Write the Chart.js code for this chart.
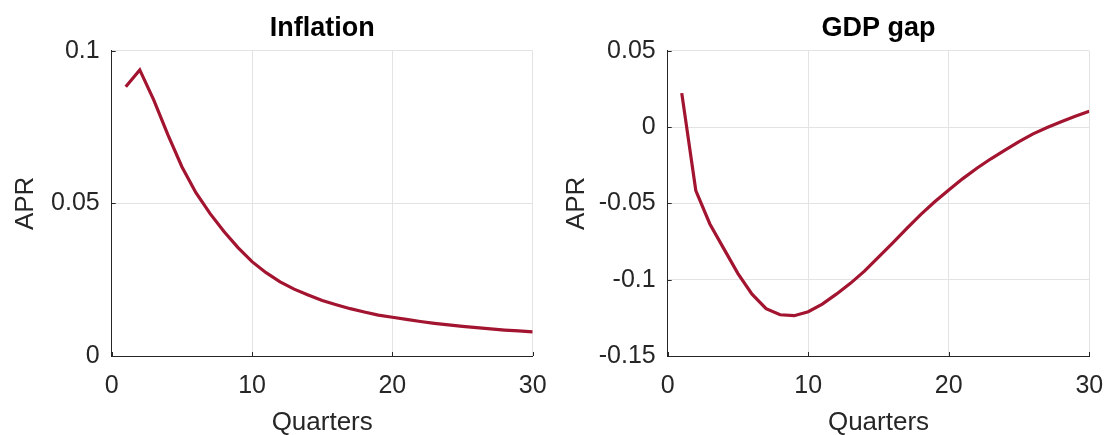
<!DOCTYPE html>
<html>
<head>
<meta charset="utf-8">
<script src="https://cdn.jsdelivr.net/npm/chart.js@4.4.1/dist/chart.umd.min.js"></script>
<style>
  html, body { margin: 0; padding: 0; background: #fff; }
  #wrap { position: relative; width: 1105px; height: 435px; }
  #inflationChart { position: absolute; left: 0; top: 0; }
  #gdpChart { position: absolute; left: 552px; top: 0; }
</style>
</head>
<body>
<div id="wrap">
  <canvas id="inflationChart" width="552" height="435"></canvas>
  <canvas id="gdpChart" width="553" height="435"></canvas>
</div>
<script>
// Data
const quarters = [1, 2, 3, 4, 5, 6, 7, 8, 9, 10, 11, 12, 13, 14, 15, 16, 17, 18, 19, 20, 21, 22, 23, 24, 25, 26, 27, 28, 29, 30];
const inflation = [0.0882, 0.0937, 0.0838, 0.0725, 0.0620, 0.0535, 0.0467, 0.0408, 0.0355, 0.0309,
  0.0273, 0.0243, 0.0219, 0.0200, 0.0182, 0.0168, 0.0155, 0.0144, 0.0134, 0.0127,
  0.0120, 0.0113, 0.0107, 0.0102, 0.0097, 0.0093, 0.0089, 0.0085, 0.0082, 0.0079];
const gdpGap = [0.0222, -0.0416, -0.0635, -0.0798, -0.0960, -0.1095, -0.1190, -0.1230, -0.1236, -0.1210,
  -0.1160, -0.1095, -0.1024, -0.0944, -0.0852, -0.0760, -0.0665, -0.0574, -0.0490, -0.0412,
  -0.0338, -0.0270, -0.0208, -0.0152, -0.0095, -0.0045, -0.0003, 0.0035, 0.0070, 0.0103];

const xTicks = [0, 10, 20, 30];
const inflationTicks = [0, 0.05, 0.1];
const gdpTicks = [-0.15, -0.1, -0.05, 0, 0.05];

const FONT = "'Liberation Sans', Arial, sans-serif";
const AXIS_COLOR = "#262626";
const LINE_COLOR = "#A2142F";

// MATLAB style small ticks pointing into the plot
const innerTicks = {
  id: "innerTicks",
  afterDraw(chart) {
    const ctx = chart.ctx;
    const area = chart.chartArea;
    const x = chart.scales.x;
    const y = chart.scales.y;
    ctx.save();
    ctx.strokeStyle = AXIS_COLOR;
    ctx.lineWidth = 1;
    ctx.beginPath();
    x.ticks.forEach((t) => {
      const px = Math.round(x.getPixelForValue(t.value)) + 0.5;
      ctx.moveTo(px, area.bottom);
      ctx.lineTo(px, area.bottom - 4);
    });
    y.ticks.forEach((t) => {
      const py = Math.round(y.getPixelForValue(t.value)) + 0.5;
      ctx.moveTo(area.left, py);
      ctx.lineTo(area.left + 4, py);
    });
    ctx.stroke();
    ctx.restore();
  },
};

function createChart(canvasId, title, values, yMin, yMax, yTicks, box) {
  const ctx = document.getElementById(canvasId).getContext("2d");
  return new Chart(ctx, {
    type: "line",
    data: {
      datasets: [
        {
          data: quarters.map((q, i) => ({ x: q, y: values[i] })),
          borderColor: LINE_COLOR,
          borderWidth: 3.2,
          pointRadius: 0,
          tension: 0,
          fill: false,
        },
      ],
    },
    options: {
      responsive: false,
      animation: false,
      layout: { padding: { left: 0, right: box.right, top: 0, bottom: 0 } },
      plugins: {
        legend: { display: false },
        tooltip: { enabled: false },
        title: {
          display: true,
          text: title,
          fullSize: false,
          color: "#000",
          font: { family: FONT, size: 27, weight: "bold", lineHeight: 1.2 },
          padding: { top: 12, bottom: 6.3 },
        },
      },
      scales: {
        x: {
          type: "linear",
          min: 0,
          max: 30,
          afterBuildTicks: (scale) => {
            scale.ticks = xTicks.map((v) => ({ value: v }));
          },
          afterFit: (scale) => {
            scale.height = 79;
          },
          ticks: {
            color: AXIS_COLOR,
            // tall line height puts the labels lower without adding side padding
            font: { family: FONT, size: 25, lineHeight: 2.4 },
            padding: 0,
            maxRotation: 0,
            callback: (v) => String(v),
          },
          grid: { color: "#e3e3e3", drawTicks: false, lineWidth: 1 },
          border: { display: true, color: AXIS_COLOR, width: 1 },
          title: {
            display: true,
            text: "Quarters",
            color: AXIS_COLOR,
            font: { family: FONT, size: 26, lineHeight: 0.8 },
            padding: { top: 0, bottom: 1.6 },
          },
        },
        y: {
          type: "linear",
          min: yMin,
          max: yMax,
          afterBuildTicks: (scale) => {
            scale.ticks = yTicks.map((v) => ({ value: v }));
          },
          afterFit: (scale) => {
            scale.width = box.left;
          },
          ticks: {
            color: AXIS_COLOR,
            font: { family: FONT, size: 25, lineHeight: 1.2 },
            padding: 12,
            callback: (v) => String(v),
          },
          grid: { color: "#e3e3e3", drawTicks: false, lineWidth: 1 },
          border: { display: true, color: AXIS_COLOR, width: 1 },
          title: {
            display: true,
            text: "APR",
            color: AXIS_COLOR,
            font: { family: FONT, size: 26, lineHeight: 1.2 },
            padding: { top: box.yTitle, bottom: 0 },
          },
        },
      },
    },
    plugins: [innerTicks],
  });
}

createChart("inflationChart", "Inflation", inflation, 0, 0.1, inflationTicks, { left: 111.7, right: 19.3, yTitle: 10.4 });
createChart("gdpChart", "GDP gap", gdpGap, -0.15, 0.05, gdpTicks, { left: 115.7, right: 15.7, yTitle: 9.4 });
</script>
</body>
</html>
